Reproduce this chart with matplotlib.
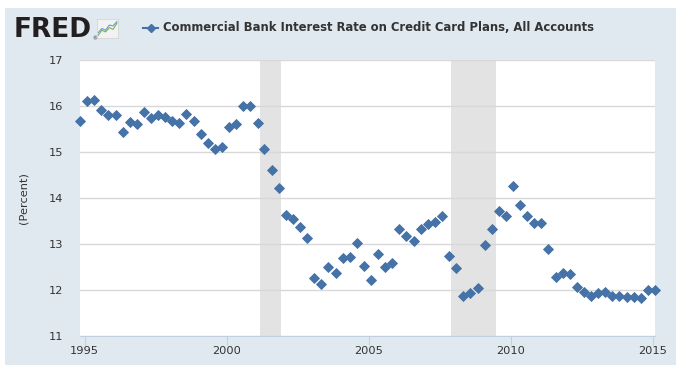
import matplotlib
matplotlib.use('Agg')
import matplotlib.pyplot as plt
import matplotlib.dates as mdates
from matplotlib.lines import Line2D
from matplotlib.patches import Rectangle
import pandas as pd

# quarterly observations, Nov 1994 .. Feb 2015
dates = pd.date_range('1994-11-01', periods=82, freq='3MS')
rates = [15.68, 16.10, 16.14, 15.92, 15.80, 15.80, 15.44, 15.65, 15.61, 15.87,
         15.74, 15.80, 15.76, 15.67, 15.64, 15.82, 15.67, 15.39, 15.19, 15.06,
         15.11, 15.55, 15.60, 15.99, 15.99, 15.64, 15.07, 14.60, 14.22,
         13.64, 13.55, 13.37, 13.12, 12.27, 12.12, 12.49, 12.36, 12.69, 12.71,
         13.03, 12.53, 12.22, 12.79, 12.50, 12.59, 13.32, 13.18, 13.07, 13.33,
         13.43, 13.48, 13.60,
         12.75, 12.47, 11.88, 11.94, 12.04, 12.98, 13.32, 13.71, 13.61, 14.27,
         13.85, 13.60, 13.45, 13.45, 12.89, 12.28, 12.37, 12.35, 12.07, 11.96,
         11.88, 11.94, 11.95, 11.88, 11.86, 11.85, 11.85, 11.83, 12.00, 12.00]
recessions = [('2001-03-01', '2001-11-30'), ('2007-12-01', '2009-06-30')]
title = 'Commercial Bank Interest Rate on Credit Card Plans, All Accounts'

blue = '#4572a7'
bg = '#e1e9f0'
txt = '#333333'

fig = plt.figure(figsize=(6.81, 3.67), dpi=100, facecolor='white')
fig.patches.append(Rectangle((5 / 681, 2 / 367), 671 / 681, 357 / 367,
                             transform=fig.transFigure, facecolor=bg,
                             edgecolor='none', zorder=-10))

ax = fig.add_axes([80 / 681, 31 / 367, 575 / 681, 276 / 367])
ax.set_facecolor('white')

for start, end in recessions:
    ax.axvspan(pd.Timestamp(start), pd.Timestamp(end), color='#e3e3e3', lw=0, zorder=0)

ax.plot(dates, rates, linestyle='none', marker='D', markersize=4.6,
        color=blue, markeredgecolor=blue, markeredgewidth=0.6,
        clip_on=False, zorder=3)

ax.set_xlim(pd.Timestamp('1994-11-01'), pd.Timestamp('2015-02-01'))
ax.set_ylim(11, 17)
ax.set_yticks(range(11, 18))
ax.xaxis.set_major_locator(mdates.YearLocator(5))
ax.xaxis.set_major_formatter(mdates.DateFormatter('%Y'))
ax.grid(axis='y', color='#d8d8d8', lw=1)
ax.set_axisbelow(True)

for s in ['top', 'right', 'left']:
    ax.spines[s].set_visible(False)
ax.spines['bottom'].set_color('#c0d0e0')
ax.tick_params(axis='x', colors='#c0d0e0', length=6.5, labelcolor=txt,
               labelsize=8.2, pad=1)
ax.tick_params(axis='y', length=0, labelcolor=txt, labelsize=8.2, pad=12)
ax.set_ylabel('(Percent)', color=txt, fontsize=8.2)
ax.yaxis.set_label_coords(-0.09, 0.5)

# header: FRED logo + legend entry
fig.text(14 / 681, 1 - 30 / 367, 'FRED', fontsize=19, fontweight='heavy',
         family='DejaVu Sans', color='#231f20', va='center', ha='left')
fig.text(92 / 681, 1 - 39 / 367, '®', fontsize=3.5, color='#231f20', va='center')
icon = fig.add_axes([97 / 681, 1 - 38 / 367, 21 / 681, 19 / 367])
icon.set_facecolor('#f2f2f2')
icon.plot([0, 1, 2, 3, 4, 5], [0.15, 0.45, 0.35, 0.6, 0.5, 0.85], color='#7ab55c', lw=0.8)
icon.plot([0, 1, 2, 3, 4, 5], [0.3, 0.55, 0.45, 0.75, 0.7, 0.95], color='#6f95c8', lw=0.8)
icon.set_xlim(-0.3, 5.3)
icon.set_ylim(0, 1.1)
icon.set_xticks([])
icon.set_yticks([])
for s in icon.spines.values():
    s.set_color('#d0d0d0')
    s.set_linewidth(0.5)

fig.add_artist(Line2D([143 / 681, 158 / 681], [1 - 27.5 / 367, 1 - 27.5 / 367],
                      color=blue, lw=1.5, transform=fig.transFigure))
fig.add_artist(Line2D([150.5 / 681], [1 - 27.5 / 367], color=blue, marker='D',
                      markersize=4.5, linestyle='none', transform=fig.transFigure))
fig.text(163 / 681, 1 - 27.5 / 367, title, fontsize=8.4, fontweight='bold',
         color=txt, va='center', ha='left')

fig.savefig('out.png', dpi=100, facecolor='white')
